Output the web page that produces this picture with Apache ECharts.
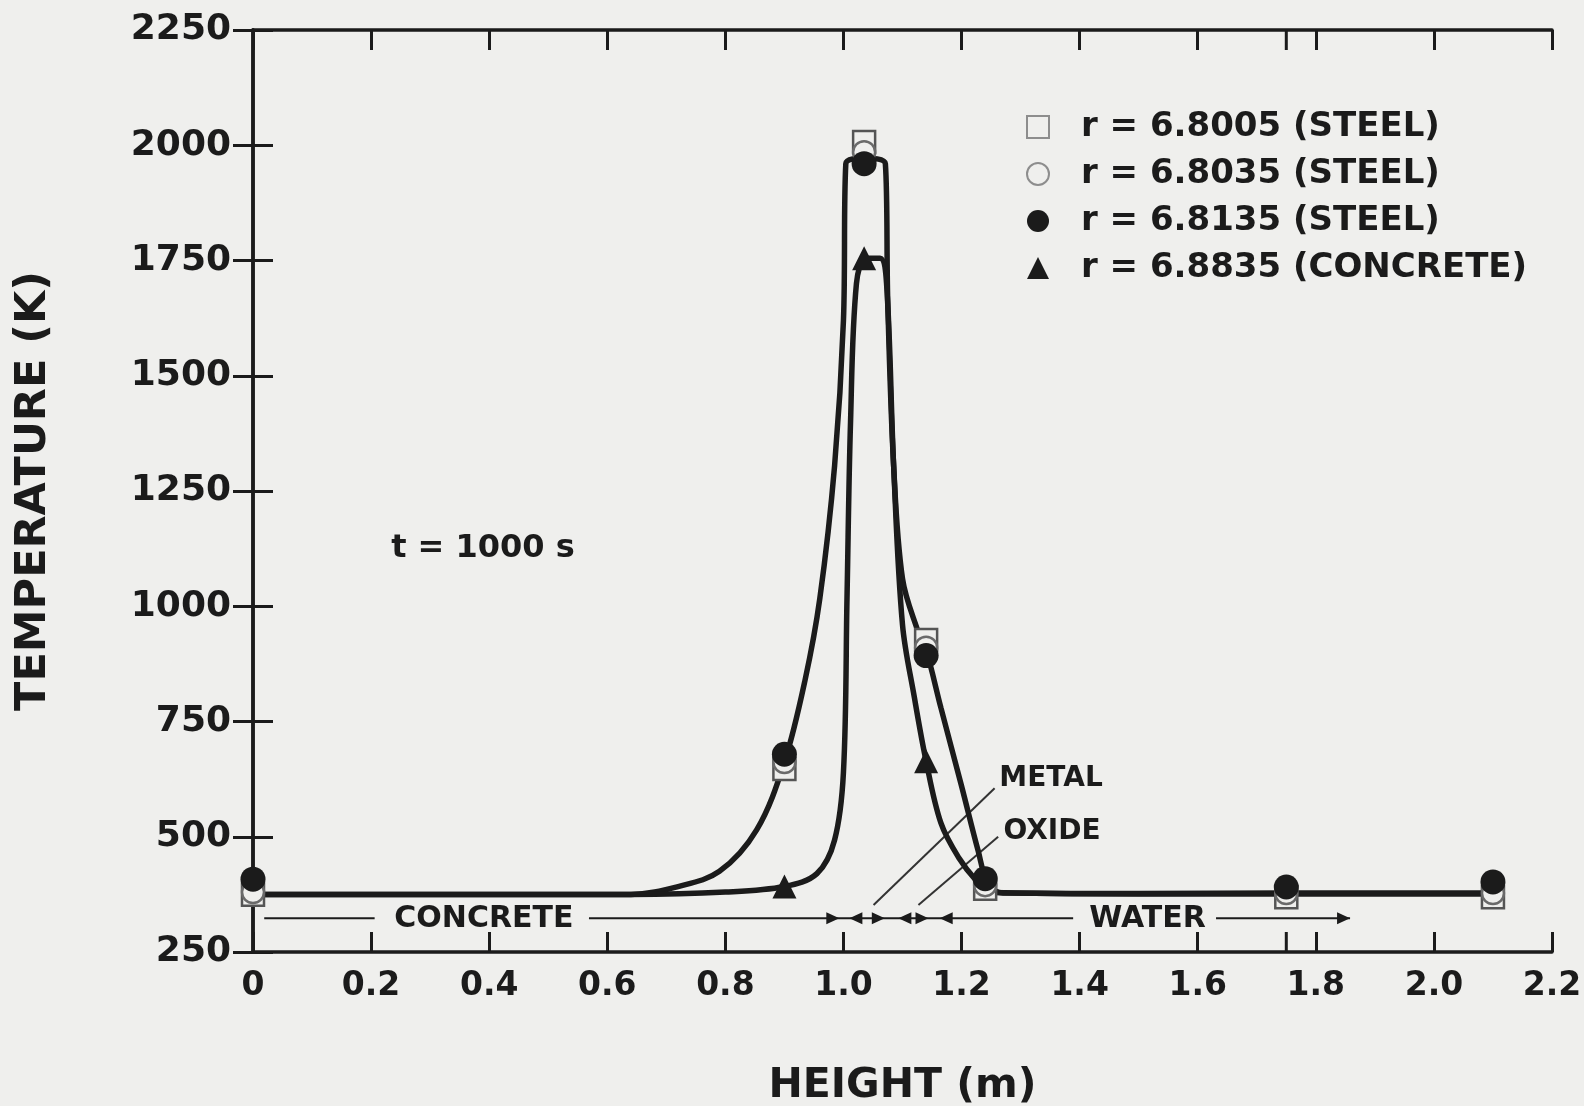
<!DOCTYPE html>
<html>
<head>
<meta charset="utf-8">
<title>Temperature profile at t = 1000 s</title>
<script src="https://cdn.jsdelivr.net/npm/echarts@6/dist/echarts.min.js"></script>
<style>
  html, body { margin: 0; padding: 0; background: #efefed; }
  #chart { width: 1584px; height: 1106px; }
</style>
</head>
<body>
<div id="chart"></div>
<script>
// Marker heights (m) shared by the three steel radii
const heightMarks = [0, 0.9, 1.035, 1.14, 1.24, 1.75, 2.1];
// Temperatures (K) at those heights
const tempR68005 = [374, 647, 2007, 927, 387, 369, 369];
const tempR68035 = [380, 662, 1985, 910, 395, 378, 378];
const tempR68135 = [408, 679, 1960, 893, 409, 391, 402];
// Concrete radius markers
const heightConcreteMarks = [0.9, 1.035, 1.14];
const tempR68835 = [392, 1755, 664];

// Temperature profile through the steel
const steelCurveHeight = [0, 0.64, 0.72, 0.79, 0.853, 0.9, 0.935, 0.96, 0.985, 1.0, 1.004, 1.035, 1.071, 1.075, 1.085, 1.1, 1.125, 1.14, 1.165, 1.2, 1.228, 1.245, 1.27, 1.5, 1.75, 2.1];
const steelCurveTemp   = [375, 375, 392, 425, 515, 662, 840, 1017, 1305, 1620, 1960, 1972, 1960, 1662, 1305, 1060, 950, 905, 780, 610, 470, 398, 378, 377, 378, 378];
// Temperature profile through the concrete
const concreteCurveHeight = [0, 0.64, 0.8, 0.9, 0.955, 0.985, 1.0, 1.006, 1.012, 1.022, 1.038, 1.062, 1.073, 1.085, 1.1, 1.12, 1.14, 1.165, 1.195, 1.225, 1.25, 1.5, 2.1];
const concreteCurveTemp   = [375, 375, 380, 392, 420, 493, 640, 1017, 1400, 1700, 1755, 1755, 1700, 1305, 960, 803, 664, 530, 455, 405, 379, 376, 376];

// Axis ranges and ticks
const heightRange = [0, 2.2];
const heightStep = 0.2;
const tempRange = [250, 2250];
const tempStep = 250;
const extraHeightTicks = [1.75];

// Layer guide along the bottom: level, line spans, arrow tips (height, direction)
const guideLevel = 323;
const guideSpans = [[0.019, 0.206], [0.569, 1.389], [1.631, 1.858]];
const guideArrows = [[0.993, 1], [1.010, -1], [1.070, 1], [1.093, -1], [1.144, 1], [1.163, -1], [1.858, 1]];
const guideLabels = [['CONCRETE', 0.391], ['WATER', 1.515]];
// Layer call-outs: label, anchor [height, temp], leader from/to
const calloutLabels = [['METAL', [1.264, 625]], ['OXIDE', [1.271, 510]]];
const calloutLeaders = [[[1.051, 352], [1.256, 605]], [[1.127, 352], [1.262, 500]]];
// Time stamp note
const timeNote = ['t = 1000 s', [0.234, 1125]];

const seriesNames = ['r = 6.8005 (STEEL)', 'r = 6.8035 (STEEL)', 'r = 6.8135 (STEEL)', 'r = 6.8835 (CONCRETE)'];

const ink = '#1b1b1b';
const paper = '#efefed';
const fam = '"DejaVu Sans", "Liberation Sans", sans-serif';

const zip = (xs, ys) => xs.map((x, i) => [x, ys[i]]);

function renderGuide(params, api) {
  const kids = [];
  guideSpans.forEach(([a, b]) => {
    const p1 = api.coord([a, guideLevel]);
    const p2 = api.coord([b, guideLevel]);
    kids.push({ type: 'line', shape: { x1: p1[0], y1: p1[1], x2: p2[0], y2: p2[1] },
      style: { stroke: ink, lineWidth: 2 } });
  });
  guideArrows.forEach(([x, dir]) => {
    const p = api.coord([x, guideLevel]);
    kids.push({ type: 'polygon', shape: { points: [[p[0], p[1]], [p[0] - dir * 13, p[1] - 6], [p[0] - dir * 13, p[1] + 6]] },
      style: { fill: ink } });
  });
  guideLabels.forEach(([txt, x]) => {
    const p = api.coord([x, guideLevel]);
    kids.push({ type: 'text', x: p[0], y: p[1] + 1,
      style: { text: txt, font: 'bold 30px ' + fam, fill: ink, align: 'center', verticalAlign: 'middle' } });
  });
  calloutLeaders.forEach(([a, b]) => {
    const p1 = api.coord(a);
    const p2 = api.coord(b);
    kids.push({ type: 'line', shape: { x1: p1[0], y1: p1[1], x2: p2[0], y2: p2[1] },
      style: { stroke: '#333', lineWidth: 2 } });
  });
  calloutLabels.forEach(([txt, pt]) => {
    const p = api.coord(pt);
    kids.push({ type: 'text', x: p[0], y: p[1],
      style: { text: txt, font: 'bold 28px ' + fam, fill: ink, align: 'left', verticalAlign: 'middle' } });
  });
  const tp = api.coord(timeNote[1]);
  kids.push({ type: 'text', x: tp[0], y: tp[1],
    style: { text: timeNote[0], font: 'bold 32px ' + fam, fill: ink, align: 'left', verticalAlign: 'middle' } });
  return { type: 'group', children: kids };
}

function renderExtraTicks(params, api) {
  const h = api.value(0);
  const b = api.coord([h, tempRange[0]]);
  const t = api.coord([h, tempRange[1]]);
  return { type: 'group', children: [
    { type: 'line', shape: { x1: b[0], y1: b[1], x2: b[0], y2: b[1] - 20 }, style: { stroke: ink, lineWidth: 3 } },
    { type: 'line', shape: { x1: t[0], y1: t[1], x2: t[0], y2: t[1] + 20 }, style: { stroke: ink, lineWidth: 3 } }
  ] };
}

const axisLineStyle = { lineStyle: { color: ink, width: 3.5 } };
const tickStyle = { inside: true, length: 20, lineStyle: { color: ink, width: 3 } };

const option = {
  backgroundColor: paper,
  animation: false,
  textStyle: { fontFamily: fam },
  grid: { left: 253, right: 32, top: 30, bottom: 154, containLabel: false, outerBoundsMode: 'none' },
  legend: {
    orient: 'vertical',
    left: 1021,
    top: 104,
    itemWidth: 22,
    itemHeight: 22,
    itemGap: 11,
    selectedMode: false,
    textStyle: { color: ink, fontFamily: fam, fontWeight: 'bold', fontSize: 34, lineHeight: 36, padding: [0, 0, 0, 27] },
    data: [
      { name: seriesNames[0], icon: 'rect', itemStyle: { color: paper, borderColor: '#8d8d8d', borderWidth: 2 } },
      { name: seriesNames[1], icon: 'circle', itemStyle: { color: paper, borderColor: '#8d8d8d', borderWidth: 2 } },
      { name: seriesNames[2], icon: 'circle', itemStyle: { color: ink, borderWidth: 0 } },
      { name: seriesNames[3], icon: 'triangle', itemStyle: { color: ink, borderWidth: 0 } }
    ]
  },
  xAxis: [
    {
      type: 'value', min: heightRange[0], max: heightRange[1], interval: heightStep,
      name: 'HEIGHT (m)', nameLocation: 'middle', nameGap: 114,
      nameTextStyle: { color: ink, fontFamily: fam, fontWeight: 'bold', fontSize: 41 },
      axisLine: axisLineStyle, axisTick: tickStyle, splitLine: { show: false },
      axisLabel: { color: ink, fontFamily: fam, fontWeight: 'bold', fontSize: 33, margin: 18,
        formatter: v => (v === 0 ? '0' : v.toFixed(1)) }
    },
    {
      type: 'value', position: 'top', min: heightRange[0], max: heightRange[1], interval: heightStep,
      axisLine: axisLineStyle, axisTick: tickStyle, axisLabel: { show: false }, splitLine: { show: false }
    }
  ],
  yAxis: [
    {
      type: 'value', min: tempRange[0], max: tempRange[1], interval: tempStep,
      name: 'TEMPERATURE (K)', nameLocation: 'middle', nameGap: 198, nameRotate: 90,
      nameTextStyle: { color: ink, fontFamily: fam, fontWeight: 'bold', fontSize: 43 },
      axisLine: axisLineStyle, axisTick: tickStyle, splitLine: { show: false },
      axisLabel: { color: ink, fontFamily: fam, fontWeight: 'bold', fontSize: 36, margin: 22,
        formatter: v => String(v) }
    },
    {
      type: 'value', position: 'right', min: tempRange[0], max: tempRange[1], interval: tempStep,
      axisLine: axisLineStyle, axisTick: tickStyle, axisLabel: { show: false }, splitLine: { show: false }
    }
  ],
  series: [
    {
      type: 'custom', name: 'guide', renderItem: renderGuide, data: [[0, 0]], silent: true, z: 1, clip: false
    },
    {
      type: 'custom', name: 'ticks', renderItem: renderExtraTicks, data: extraHeightTicks.map(h => [h, tempRange[0]]), silent: true, z: 1, clip: false
    },
    {
      type: 'line', name: 'steel profile', data: zip(steelCurveHeight, steelCurveTemp),
      showSymbol: false, symbol: 'none', smooth: 0.35,
      lineStyle: { color: ink, width: 5.5 }, z: 2, silent: true
    },
    {
      type: 'line', name: 'concrete profile', data: zip(concreteCurveHeight, concreteCurveTemp),
      showSymbol: false, symbol: 'none', smooth: 0.35,
      lineStyle: { color: ink, width: 5.5 }, z: 2, silent: true
    },
    {
      type: 'scatter', name: seriesNames[0], symbol: 'rect', symbolSize: 22,
      data: zip(heightMarks, tempR68005),
      itemStyle: { color: paper, borderColor: '#555', borderWidth: 2.5, opacity: 1 }, z: 3
    },
    {
      type: 'scatter', name: seriesNames[1], symbol: 'circle', symbolSize: 22,
      data: zip(heightMarks, tempR68035),
      itemStyle: { color: paper, borderColor: '#6a6a6a', borderWidth: 2.5, opacity: 1 }, z: 4
    },
    {
      type: 'scatter', name: seriesNames[2], symbol: 'circle', symbolSize: 25,
      data: zip(heightMarks, tempR68135),
      itemStyle: { color: ink, opacity: 1 }, z: 5
    },
    {
      type: 'scatter', name: seriesNames[3], symbol: 'triangle', symbolSize: 24,
      data: zip(heightConcreteMarks, tempR68835),
      itemStyle: { color: ink, opacity: 1 }, z: 6
    }
  ]
};

const chart = echarts.init(document.getElementById('chart'), null, { renderer: 'canvas' });
chart.setOption(option);
</script>
</body>
</html>
